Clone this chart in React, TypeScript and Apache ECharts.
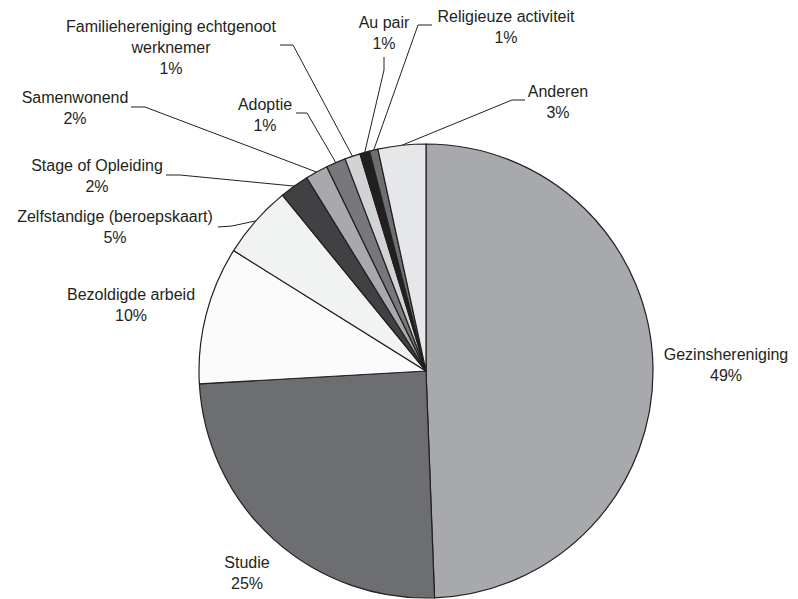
import React, { useEffect, useRef } from "react";
import * as echarts from "echarts";

const categories = [
  "Gezinshereniging",
  "Studie",
  "Bezoldigde arbeid",
  "Zelfstandige (beroepskaart)",
  "Stage of Opleiding",
  "Samenwonend",
  "Adoptie",
  "Familiehereniging echtgenoot\nwerknemer",
  "Au pair",
  "Religieuze activiteit",
  "Anderen",
];
const values = [49.4, 24.7, 9.8, 5.2, 2.1, 1.6, 1.4, 1.1, 0.7, 0.6, 3.4];
const colors = [
  "#a7a9ac", "#6d6e71", "#fbfbfb", "#f1f2f2", "#414042", "#a7a9ac",
  "#77787b", "#d1d3d4", "#231f20", "#6d6e71", "#e6e7e8",
];

// label block centers and leader-line bends (layout only)
const labelPos: [number, number][] = [
  [726, 365], [247, 573], [131, 305], [115, 227], [97, 176], [75, 108],
  [265, 115], [171, 47], [384, 33], [506, 27], [558, 102],
];
const leaderBends: ([number, number][] | null)[] = [
  null, null, null,
  [[232, 226], [218, 227]],
  [[180, 175], [166, 175]],
  [[145, 107], [131, 107]],
  [[307, 113], [296, 113]],
  [[293, 45], [280, 45]],
  [[384, 70], [384, 57]],
  [[418, 25], [432, 25]],
  [[512, 100], [525, 100]],
];

export default function App() {
  const ref = useRef<HTMLDivElement>(null);
  useEffect(() => {
    if (!ref.current) return;
    const chart = echarts.init(ref.current, undefined, { renderer: "svg" });
    chart.setOption({
      animation: false,
      backgroundColor: "#ffffff",
      series: [
        {
          type: "pie",
          center: [426, 371],
          radius: 227,
          startAngle: 90,
          clockwise: true,
          avoidLabelOverlap: false,
          itemStyle: { borderColor: "#231f20", borderWidth: 1.2 },
          label: {
            show: true,
            position: "outside",
            fontFamily: "Liberation Sans, Arial, sans-serif",
            fontSize: 16,
            lineHeight: 21,
            color: "#231f20",
            align: "center",
            formatter: (p: any) => `${p.name}\n${Math.round(p.percent)}%`,
          },
          labelLine: {
            show: true,
            length: 5,
            length2: 5,
            smooth: false,
            lineStyle: { color: "#231f20", width: 1 },
          },
          labelLayout: (params: any) => {
            const i = params.dataIndex;
            const [x, y] = labelPos[i];
            const bends = leaderBends[i];
            const res: any = { x, y, align: "center", verticalAlign: "middle" };
            if (bends && params.labelLinePoints) {
              res.labelLinePoints = [params.labelLinePoints[0], ...bends];
            }
            return res;
          },
          data: categories.map((name, i) => ({
            name,
            value: values[i],
            itemStyle: { color: colors[i] },
            labelLine: { show: leaderBends[i] !== null },
          })),
        },
      ],
    });
    return () => chart.dispose();
  }, []);
  return (
    <div
      ref={ref}
      style={{ position: "fixed", left: 0, top: 0, width: 798, height: 599 }}
    />
  );
}
